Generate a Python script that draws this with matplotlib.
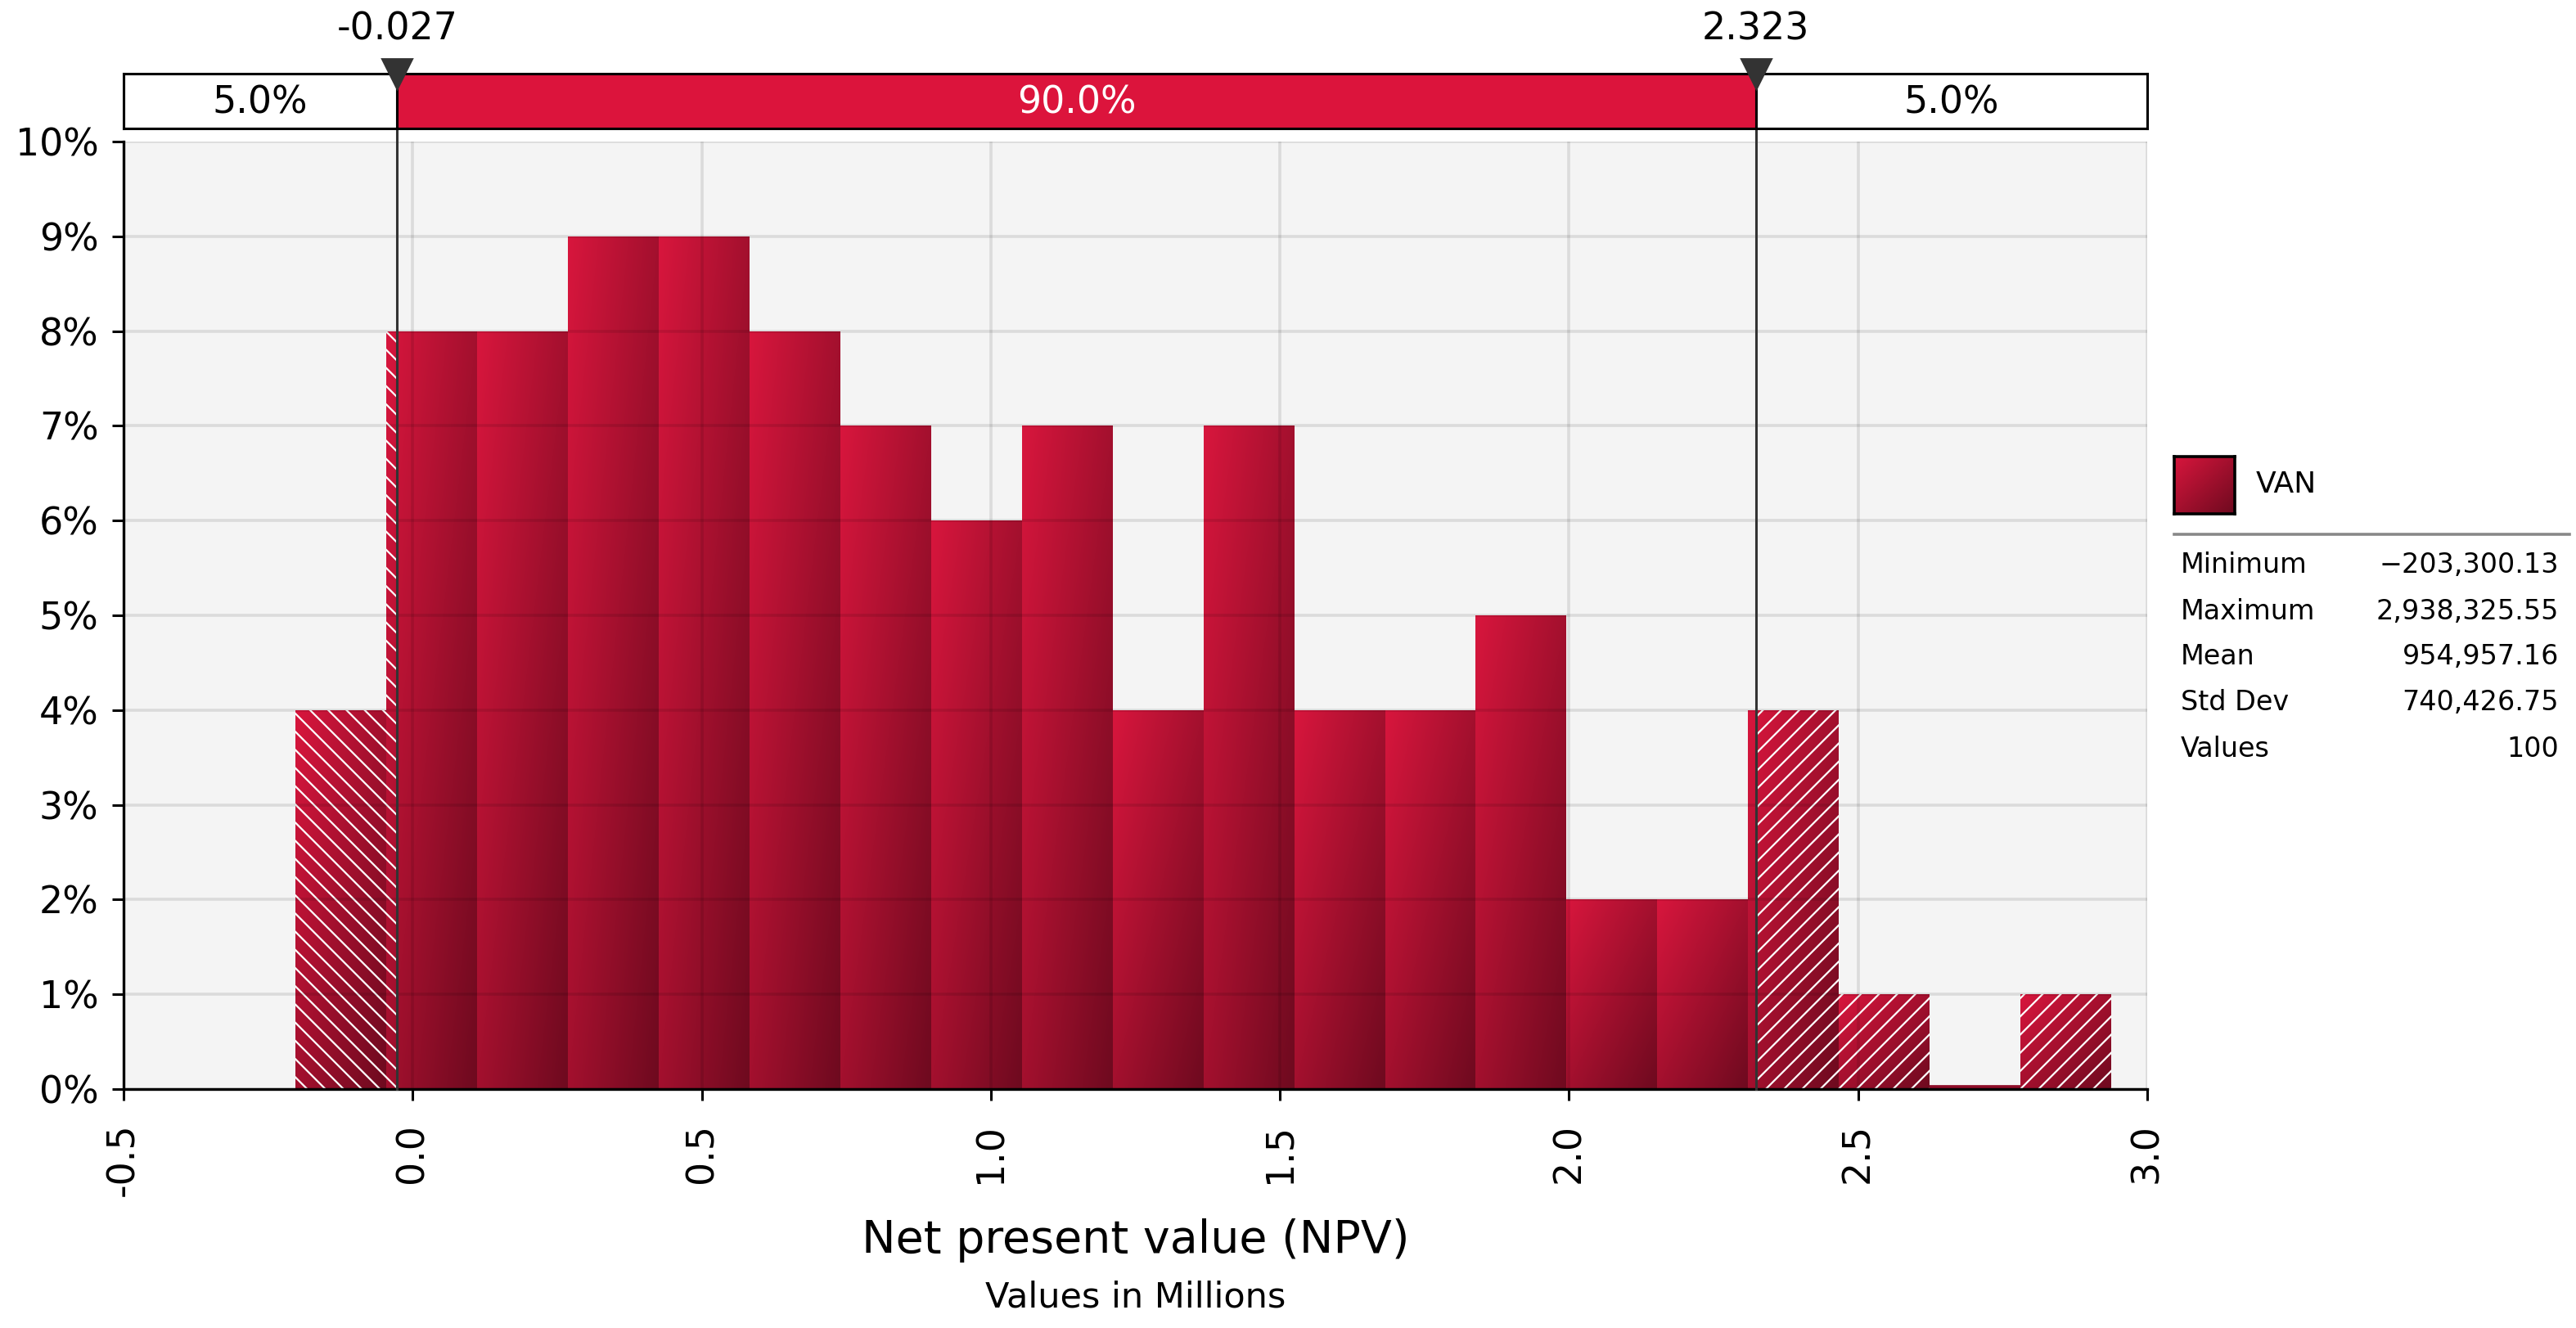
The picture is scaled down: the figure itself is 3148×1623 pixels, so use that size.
import numpy as np
import matplotlib
matplotlib.use("Agg")
import matplotlib.pyplot as plt
from matplotlib.colors import LinearSegmentedColormap
from matplotlib.lines import Line2D

# ---------------- data ----------------
counts_pct = [4, 8, 8, 9, 9, 8, 7, 6, 7, 4, 7, 4, 4, 5, 2, 2, 4, 1, 0, 1]
value_min = -203300.13
value_max = 2938325.55
value_mean = 954957.16
value_std = 740426.75
n_values = 100
p_low = -0.027
p_high = 2.323
band_labels = ["5.0%", "90.0%", "5.0%"]
x_ticks = [-0.5, 0.0, 0.5, 1.0, 1.5, 2.0, 2.5, 3.0]
y_ticks = [0, 1, 2, 3, 4, 5, 6, 7, 8, 9, 10]
series_name = "VAN"
stat_labels = ["Minimum", "Maximum", "Mean", "Std Dev", "Values"]
stat_values = [value_min, value_max, value_mean, value_std, n_values]
x_title = "Net present value (NPV)"
x_subtitle = "Values in Millions"

# ---------------- style ----------------
plt.rcParams["font.family"] = ["DejaVu Sans"]
plt.rcParams["axes.unicode_minus"] = False
plt.rcParams["hatch.color"] = "white"
plt.rcParams["hatch.linewidth"] = 0.8

W, H = 3148, 1623
DPI = 200
fig = plt.figure(figsize=(W / DPI, H / DPI), dpi=DPI, facecolor="white")


def fx(px):
    return px / W


def fy(py):
    return 1 - py / H


PL, PR, PT, PB = 151, 2624, 173, 1331      # plot area (px)
BT, BB = 90, 157                             # top band (px)

cmap = LinearSegmentedColormap.from_list("van", ["#D8163D", "#6E0A1F"])
g = np.linspace(0, 1, 128)
grad = (g[None, :] + g[:, None]) / 2.0

# ---------------- main axes ----------------
ax = fig.add_axes([fx(PL), fy(PB), fx(PR) - fx(PL), (PB - PT) / H])
ax.set_facecolor("#F4F4F4")

edges = np.linspace(value_min / 1e6, value_max / 1e6, len(counts_pct) + 1)
widths = np.diff(edges)
bars = ax.bar(edges[:-1], counts_pct, width=widths, align="edge",
              facecolor="none", linewidth=0, zorder=1)
for patch, c in zip(bars, counts_pct):
    x0, w = patch.get_x(), patch.get_width()
    if c > 0:
        im = ax.imshow(grad, cmap=cmap, vmin=0, vmax=1, origin="upper",
                       extent=[x0, x0 + w, 0, c], aspect="auto",
                       interpolation="bilinear", zorder=1)
        im.set_clip_path(patch)
    else:
        ax.plot([x0, x0 + w], [0, 0], color="#8E0C28", lw=3.5,
                solid_capstyle="butt", zorder=1.5)

# hatched tails
for x0, x1, c in zip(edges[:-1], edges[1:], counts_pct):
    if c <= 0:
        continue
    if x0 < p_low:
        ax.bar(x0, c, width=min(x1, p_low) - x0, align="edge",
               facecolor="none", linewidth=0, hatch="\\\\\\", zorder=1.6)
    if x1 > p_high:
        s = max(x0, p_high)
        ax.bar(s, c, width=x1 - s, align="edge",
               facecolor="none", linewidth=0, hatch="///", zorder=1.6)

ax.set_xlim(x_ticks[0], x_ticks[-1])
ax.set_ylim(y_ticks[0], y_ticks[-1])
ax.set_xticks(x_ticks, labels=[f"{t:.1f}" for t in x_ticks], rotation=90)
ax.set_yticks(y_ticks, labels=[f"{t}%" for t in y_ticks])
ax.tick_params(axis="both", direction="out", length=5, width=1.1,
               labelsize=16.5, colors="black")
ax.tick_params(axis="x", pad=10)
ax.tick_params(axis="y", pad=6)
ax.set_axisbelow(False)
ax.grid(True, color="black", alpha=0.1, lw=1.3)
for side in ("top", "right"):
    ax.spines[side].set_visible(False)
for side in ("left", "bottom"):
    ax.spines[side].set_linewidth(1.2)
    ax.spines[side].set_color("black")

# percentile lines
ymax_ext = (PB - BT) / (PB - PT)
for p in (p_low, p_high):
    ax.axvline(p, ymin=0, ymax=ymax_ext, color="#333333", lw=1.1,
               clip_on=False, zorder=4)

# axis titles
cx = fx((PL + PR) / 2)
fig.text(cx, fy(1516), x_title, ha="center", va="center", fontsize=20)
fig.text(cx, fy(1586), x_subtitle, ha="center", va="center", fontsize=15.5)

# ---------------- top band ----------------
band = fig.add_axes([fx(PL), fy(BB), fx(PR) - fx(PL), (BB - BT) / H])
band.set_xlim(x_ticks[0], x_ticks[-1])
band.set_ylim(0, 1)
seg = [x_ticks[0], p_low, p_high, x_ticks[-1]]
band.barh(0.5, np.diff(seg), left=seg[:-1], height=1,
          color=["white", "#DC143C", "white"], edgecolor="black", linewidth=1.1)
for (a, b), lab, col in zip(zip(seg[:-1], seg[1:]), band_labels,
                            ["black", "white", "black"]):
    band.text((a + b) / 2, 0.47, lab, ha="center", va="center",
              fontsize=16.5, color=col)
band.set_xticks([])
band.set_yticks([])
for s in band.spines.values():
    s.set_linewidth(1.1)
    s.set_color("black")
band.plot([p_low, p_high], [1, 1], marker="v", ms=13, color="#333333",
          ls="none", clip_on=False, zorder=5)
ylab = (BB - 36) / (BB - BT)
for p in (p_low, p_high):
    band.text(p, ylab, f"{p:.3f}", transform=band.get_xaxis_transform(),
              ha="center", va="center", fontsize=16.5)

# ---------------- legend / stats ----------------
sw = fig.add_axes([fx(2657), fy(628), fx(2731) - fx(2657), (628 - 558) / H])
sw.imshow(grad, cmap=cmap, vmin=0, vmax=1, aspect="auto",
          interpolation="bilinear")
sw.set_xticks([])
sw.set_yticks([])
for s in sw.spines.values():
    s.set_linewidth(1.3)
    s.set_color("black")
fig.text(fx(2757), fy(592), series_name, ha="left", va="center", fontsize=13)
fig.add_artist(Line2D([fx(2657), fx(3140)], [fy(653), fy(653)],
                      color="#888888", lw=1.3))


def fmt(v):
    if float(v).is_integer() and abs(v) < 1000:
        return f"{int(v)}"
    s = f"{abs(v):,.2f}"
    return ("\u2212" + s) if v < 0 else s


row_y = [691, 747, 803, 859, 916]
for yy, lab, val in zip(row_y, stat_labels, stat_values):
    fig.text(fx(2665), fy(yy), lab, ha="left", va="center", fontsize=12)
    fig.text(fx(3127), fy(yy), fmt(val), ha="right", va="center", fontsize=12)

fig.savefig("out.png", dpi=DPI, facecolor="white")
